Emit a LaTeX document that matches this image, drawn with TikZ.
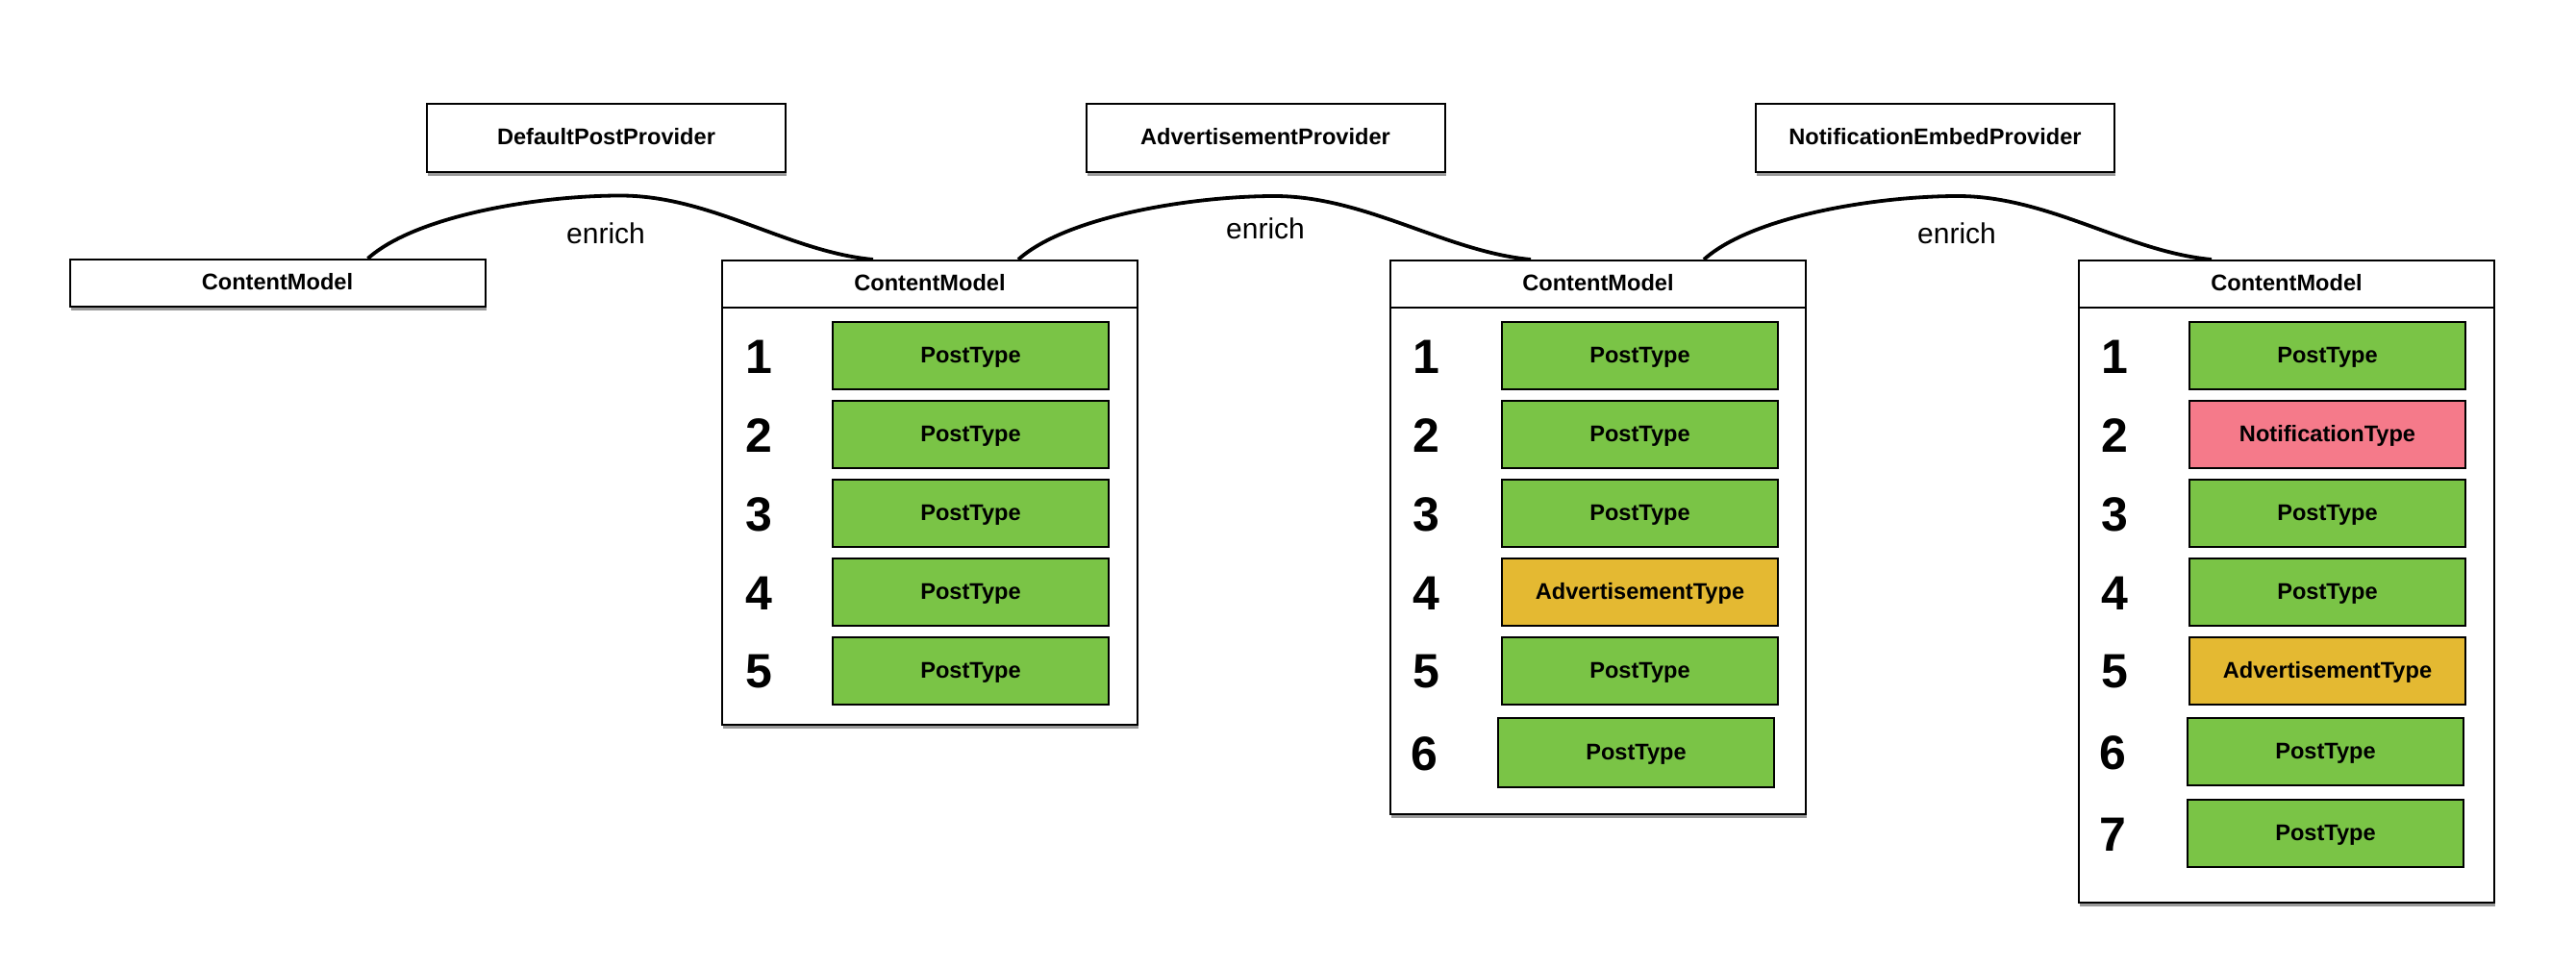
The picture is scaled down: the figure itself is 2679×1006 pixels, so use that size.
\documentclass[tikz,border=0pt]{standalone}
\usepackage{fontspec}
\setmainfont{Liberation Sans}
\usetikzlibrary{calc,shadows}
\definecolor{postgreen}{RGB}{122,196,70}
\definecolor{notifpink}{RGB}{245,122,138}
\definecolor{adgold}{RGB}{228,185,50}
\tikzset{
 shad/.style={drop shadow={shadow xshift=0.6pt, shadow yshift=-2.2pt, opacity=0.4, fill=black}},
 lbl/.style={font=\bfseries\fontsize{11.8}{14}\selectfont, text height=0.72em, text depth=0pt},
 prov/.style={draw, line width=1pt, fill=white, minimum width=186.5pt, minimum height=35.5pt, inner sep=0pt, lbl, shad},
 cmhead/.style={draw, line width=1pt, fill=white, minimum width=216pt, minimum height=24.5pt, inner sep=0pt, lbl},
 cmbox/.style={draw, line width=1pt, fill=white, minimum width=216pt, inner sep=0pt, anchor=north west, shad},
 item/.style={draw, line width=1pt, minimum width=143.5pt, minimum height=35pt, inner sep=0pt, lbl},
 post/.style={item, fill=postgreen},
 ad/.style={item, fill=adgold},
 notif/.style={item, fill=notifpink},
 num/.style={font=\bfseries\fontsize{25}{30}\selectfont, inner sep=0pt},
 link/.style={line width=1.9pt},
 enrichlbl/.style={font=\fontsize{15}{18}\selectfont, inner sep=0pt},
}
\begin{document}
\begin{tikzpicture}[x=0.5pt,y=-0.5pt]
\fill[white] (0,0) rectangle (2679,1006);
\useasboundingbox (0,0) rectangle (2679,1006);

% providers
\node[prov] (dpp) at (630.5,143.5) {DefaultPostProvider};
\node[prov] (adp) at (1316,143.5) {AdvertisementProvider};
\node[prov] (nep) at (2012.5,143.5) {NotificationEmbedProvider};

% content model 1
\node[cmhead, shad] (cm1) at (288.5,294.5) {ContentModel};

% content model 2
\node[cmbox, minimum height=241.5pt] (cm2) at (750,270) {};
\node[cmhead, anchor=north] (cm2h) at (cm2.north) {ContentModel};
\node[post] (cm2r1) at (1009.5,370) {PostType};
\node[post] (cm2r2) at (1009.5,452) {PostType};
\node[post] (cm2r3) at (1009.5,534) {PostType};
\node[post] (cm2r4) at (1009.5,616) {PostType};
\node[post] (cm2r5) at (1009.5,698) {PostType};
\node[num] (cm2n1) at (789,371) {1};
\node[num] (cm2n2) at (789,453) {2};
\node[num] (cm2n3) at (789,535) {3};
\node[num] (cm2n4) at (789,617) {4};
\node[num] (cm2n5) at (789,699) {5};

% content model 3
\node[cmbox, minimum height=288pt] (cm3) at (1445,270) {};
\node[cmhead, anchor=north] (cm3h) at (cm3.north) {ContentModel};
\node[post] (cm3r1) at (1705.5,370) {PostType};
\node[post] (cm3r2) at (1705.5,452) {PostType};
\node[post] (cm3r3) at (1705.5,534) {PostType};
\node[ad]   (cm3r4) at (1705.5,616) {AdvertisementType};
\node[post] (cm3r5) at (1705.5,698) {PostType};
\node[post, minimum height=36pt] (cm3r6) at (1701.5,783) {PostType};
\node[num] (cm3n1) at (1483,371) {1};
\node[num] (cm3n2) at (1483,453) {2};
\node[num] (cm3n3) at (1483,535) {3};
\node[num] (cm3n4) at (1483,617) {4};
\node[num] (cm3n5) at (1483,699) {5};
\node[num] (cm3n6) at (1481,784) {6};

% content model 4
\node[cmbox, minimum height=334pt] (cm4) at (2161,270) {};
\node[cmhead, anchor=north] (cm4h) at (cm4.north) {ContentModel};
\node[post]  (cm4r1) at (2420.5,370) {PostType};
\node[notif] (cm4r2) at (2420.5,452) {NotificationType};
\node[post]  (cm4r3) at (2420.5,534) {PostType};
\node[post]  (cm4r4) at (2420.5,616) {PostType};
\node[ad]    (cm4r5) at (2420.5,698) {AdvertisementType};
\node[post]  (cm4r6) at (2418.5,782) {PostType};
\node[post]  (cm4r7) at (2418.5,867) {PostType};
\node[num] (cm4n1) at (2199,371) {1};
\node[num] (cm4n2) at (2199,453) {2};
\node[num] (cm4n3) at (2199,535) {3};
\node[num] (cm4n4) at (2199,617) {4};
\node[num] (cm4n5) at (2199,699) {5};
\node[num] (cm4n6) at (2197,783) {6};
\node[num] (cm4n7) at (2197,868) {7};

% connectors
\coordinate (s1) at ($(cm1.north west)+(311,0)$);
\coordinate (e1) at ($(cm2h.north west)+(158,0)$);
\coordinate (s2) at ($(cm2h.north west)+(309,0)$);
\coordinate (e2) at ($(cm3h.north west)+(147,0)$);
\coordinate (s3) at ($(cm3h.north west)+(327,0)$);
\coordinate (e3) at ($(cm4h.north west)+(139,0)$);
\foreach \s/\e in {s1/e1, s2/e2, s3/e3}{
  \coordinate (p) at ($(\s)!0.5!(\e)+(0,-66)$);
  \draw[link] (\s) .. controls ($(\s)+(50,-45)$) and ($(p)+(-85,0)$) .. (p)
      .. controls ($(p)+(95,0)$) and ($(\e)+(-88,-8)$) .. (\e);
}
\node[enrichlbl] (en1) at (630,243) {enrich};
\node[enrichlbl] (en2) at (1316,238) {enrich};
\node[enrichlbl] (en3) at (2035,243) {enrich};
\end{tikzpicture}
\end{document}
